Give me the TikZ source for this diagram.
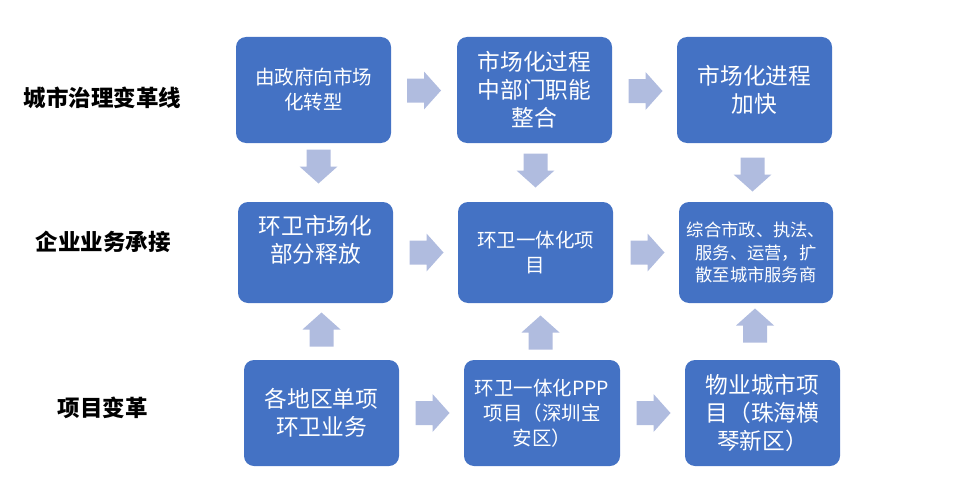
\documentclass[tikz,border=0pt]{standalone}
\usepackage{fontspec}
\setmainfont{Noto Sans CJK SC}
\definecolor{boxblue}{HTML}{4472C4}
\definecolor{arrowblue}{HTML}{B0BCDF}
\tikzset{
  box/.style={fill=boxblue, rounded corners=10pt, minimum width=155pt,
    minimum height=106pt, inner sep=0pt, text=white, align=center},
  big/.style={font=\fontsize{22.7}{28}\selectfont},
  mid/.style={font=\fontsize{19.5}{25}\selectfont},
  small/.style={font=\fontsize{17.3}{22.5}\selectfont},
  rowlabel/.style={font=\bfseries\fontsize{22.5}{27}\selectfont, text=black},
}
% block arrow: name, centre, angle
\newcommand\fatarrow[3]{%
  \fill [arrowblue, shift={#2}, rotate=#3] (0,0) coordinate (#1)
  (-17,-12) -- (0,-12) -- (0,-19) -- (17,0) -- (0,19) -- (0,12) -- (-17,12) -- cycle;}

\begin{document}
\begin{tikzpicture}[x=1pt, y=-1pt]
  \useasboundingbox (0,0) rectangle (955,495);
  % row labels
  \node [rowlabel] (city) at (102.5,98) {城市治理变革线};
  \node [rowlabel] (firm) at (103,242) {企业业务承接};
  \node [rowlabel] (proj) at (102.5,408) {项目变革};
  % city governance row
  \node [box, mid] (a1) at (313.5,90) {由政府向市场\\化转型};
  \node [box, big] (a2) at (534.5,90) {市场化过程\\中部门职能\\整合};
  \node [box, big] (a3) at (754.5,90) {市场化进程\\加快};
  % enterprise row
  \node [box, big, minimum height=101pt] (b1) at (315.5,252.5) {环卫市场化\\部分释放\\\mbox{}};
  \node [box, mid, minimum height=101pt] (b2) at (535.5,252.5) {环卫一体化项\\目};
  \node [box, small, minimum height=101pt, minimum width=154pt] (b3) at (756,252.5)
    {综合市政、执法、\\服务、运营，扩\\散至城市服务商};
  % project row
  \node [box, big] (c1) at (321.5,413) {各地区单项\\环卫业务};
  \node [box, mid, minimum width=156pt] (c2) at (542,413) {环卫一体化PPP\\项目（深圳宝\\安区）};
  \node [box, big] (c3) at (762.5,413) {物业城市项\\目（珠海横\\琴新区）};
  % arrows
  \fatarrow{r1}{(424,90.5)}{0}
  \fatarrow{r2}{(645.5,91)}{0}
  \fatarrow{r3}{(426.5,252.5)}{0}
  \fatarrow{r4}{(647.5,252.5)}{0}
  \fatarrow{r5}{(432.5,413)}{0}
  \fatarrow{r6}{(653.5,413)}{0}
  \fatarrow{d1}{(318.5,166.5)}{-90}
  \fatarrow{d2}{(535.5,170.5)}{-90}
  \fatarrow{d3}{(752.5,174.5)}{-90}
  \fatarrow{u1}{(321.5,329.5)}{90}
  \fatarrow{u2}{(540.5,332.5)}{90}
  \fatarrow{u3}{(755,325.5)}{90}
\end{tikzpicture}
\end{document}
